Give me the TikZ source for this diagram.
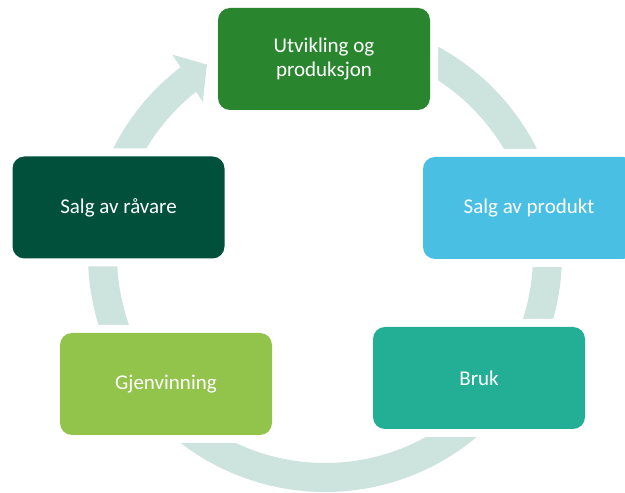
\documentclass[tikz,border=0pt]{standalone}
\usepackage{fontspec}
\setmainfont{Carlito}

\definecolor{ringgray}{HTML}{CDE3DE}
\definecolor{prodgreen}{HTML}{2A862E}
\definecolor{ravaregreen}{HTML}{01503C}
\definecolor{produktblue}{HTML}{48BFE3}
\definecolor{brukteal}{HTML}{23AE96}
\definecolor{gjenlime}{HTML}{92C34B}

\begin{document}
\begin{tikzpicture}[x=1pt, y=1pt,
    stage/.style={rectangle, rounded corners=12pt, minimum width=212pt, minimum height=102pt,
      text=white, align=center, font=\fontsize{21}{24}\selectfont,
      preaction={draw=white, line width=16pt}},
    ring/.style={draw=ringgray, line width=29pt}]
  % Fix the picture size
  \useasboundingbox (0,0) rectangle (625,493);
  % Center of the cycle
  \coordinate (c) at (325,238);

  % Background ring, open where the arrow head sits
  \draw[ring] (c) ++(127.6:222.5) arc[start angle=127.6, end angle=475, radius=222.5];
  % Arrow head pointing at the first stage
  \fill[ringgray, shift={(c)}] (127.3:252) -- (121.8:224) -- (128.6:196) -- cycle;

  % The five stages of the cycle
  \node[stage, fill=prodgreen] (prod) at (324,434) {Utvikling og\\produksjon};
  \node[stage, fill=produktblue] (produkt) at (529,285) {Salg av produkt};
  \node[stage, fill=brukteal] (bruk) at (479,115) {Bruk};
  \node[stage, fill=gjenlime] (gjenvinning) at (166,109) {Gjenvinning};
  \node[stage, fill=ravaregreen] (ravare) at (118.5,285.5) {Salg av råvare};
\end{tikzpicture}
\end{document}
